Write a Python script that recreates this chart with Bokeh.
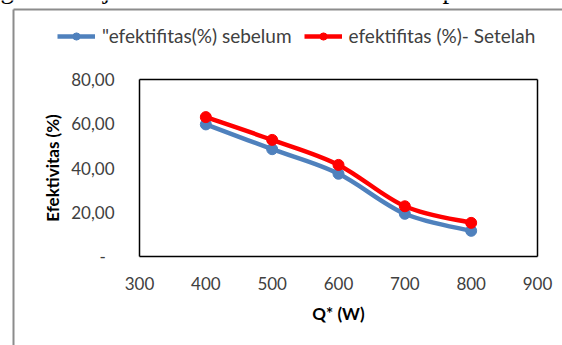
from bokeh.plotting import figure
from bokeh.models import (Range1d, FixedTicker, Legend, LegendItem, Label,
                          LinearAxis)
from bokeh.embed import file_html
from bokeh.resources import INLINE

# ---- data ----
q_w = [400, 500, 600, 700, 800]
sebelum = [59.7, 48.5, 37.4, 19.3, 11.6]
setelah = [63.0, 52.7, 41.4, 22.7, 15.2]
y_ticks = [0, 20, 40, 60, 80]
y_tick_labels = ["-\u00a0\u00a0", "20,00", "40,00", "60,00", "80,00"]
x_ticks = [300, 400, 500, 600, 700, 800, 900]
series_names = ['"efektifitas(%) sebelum', "efektifitas (%)- Setelah"]
top_words = ["g", "ditunjukkan", "dalam", "ilustrasi", "pada", "Gambar"]

X_MIN, X_MAX = 300, 900
Y_MIN, Y_MAX = 0, 80

BLUE = "#4F81BD"
RED = "#FF0000"
FONT = "Lato"

W, H = 562, 345
# plot-area box in canvas pixels
PX_L, PX_R, PX_T, PX_B = 139, 537, 79, 256
sx = (X_MAX - X_MIN) / (PX_R - PX_L)   # data units per px
sy = (Y_MAX - Y_MIN) / (PX_B - PX_T)


def cx(px):  # canvas x pixel -> data x
    return X_MIN + (px - PX_L) * sx


def cy(py):  # canvas y pixel (from top) -> data y
    return Y_MIN + (PX_B - py) * sy


p = figure(width=W, height=H, output_backend="svg", toolbar_location=None,
           x_range=Range1d(cx(0), cx(W)), y_range=Range1d(cy(H), cy(0)),
           x_axis_type=None, y_axis_type=None,
           min_border=0, min_border_left=0, min_border_right=0,
           min_border_top=0, min_border_bottom=0)
p.background_fill_color = "white"
p.border_fill_color = "white"
p.outline_line_color = None
p.xgrid.visible = False
p.ygrid.visible = False

xaxis = LinearAxis(fixed_location=Y_MIN, bounds=(X_MIN, X_MAX),
                   ticker=FixedTicker(ticks=x_ticks))
yaxis = LinearAxis(fixed_location=X_MIN, bounds=(Y_MIN, Y_MAX),
                   ticker=FixedTicker(ticks=y_ticks))
for ax in (xaxis, yaxis):
    ax.axis_line_color = None
    ax.major_tick_line_color = None
    ax.minor_tick_line_color = None
    ax.major_label_text_font = FONT
    ax.major_label_text_font_size = "17px"
    ax.major_label_text_color = "#404040"
    ax.axis_label_text_font = FONT
    ax.axis_label_text_font_style = "bold"
    ax.axis_label_text_color = "#000000"

yaxis.major_label_overrides = {t: l for t, l in zip(y_ticks, y_tick_labels)}
yaxis.major_label_standoff = 19
yaxis.axis_label = "Efektivitas (%)"
yaxis.axis_label_text_font_size = "17px"
yaxis.axis_label_standoff = 5

xaxis.major_label_standoff = 14
xaxis.axis_label = "Q* (W)"
xaxis.axis_label_text_font_size = "17px"
xaxis.axis_label_standoff = 10

p.add_layout(xaxis, "below")
p.add_layout(yaxis, "left")


def smooth_segments(xs, ys):
    n = len(xs)
    out = dict(x0=[], y0=[], x1=[], y1=[], cx0=[], cy0=[], cx1=[], cy1=[])
    for i in range(n - 1):
        xm = xs[i - 1] if i > 0 else xs[i]
        ym = ys[i - 1] if i > 0 else ys[i]
        xp = xs[i + 2] if i + 2 < n else xs[i + 1]
        yp = ys[i + 2] if i + 2 < n else ys[i + 1]
        out["x0"].append(xs[i]); out["y0"].append(ys[i])
        out["x1"].append(xs[i + 1]); out["y1"].append(ys[i + 1])
        out["cx0"].append(xs[i] + (xs[i + 1] - xm) / 6)
        out["cy0"].append(ys[i] + (ys[i + 1] - ym) / 6)
        out["cx1"].append(xs[i + 1] - (xp - xs[i]) / 6)
        out["cy1"].append(ys[i + 1] - (yp - ys[i]) / 6)
    return out


items = []
for ys, color, name in ((sebelum, BLUE, series_names[0]), (setelah, RED, series_names[1])):
    seg = smooth_segments(q_w, ys)
    b = p.bezier(x0=seg["x0"], y0=seg["y0"], x1=seg["x1"], y1=seg["y1"],
                 cx0=seg["cx0"], cy0=seg["cy0"], cx1=seg["cx1"], cy1=seg["cy1"],
                 line_color=color, line_width=4.5)
    s = p.scatter(q_w, ys, marker="circle", size=11, fill_color=color, line_color=color)
    items.append(LegendItem(label=name, renderers=[b, s]))

# plot-area box (four edges)
p.segment(x0=[X_MIN, X_MIN, X_MIN, X_MAX], y0=[Y_MIN, Y_MAX, Y_MIN, Y_MIN],
          x1=[X_MAX, X_MAX, X_MIN, X_MAX], y1=[Y_MIN, Y_MAX, Y_MAX, Y_MAX],
          line_color="black", line_width=1.5)
# gray border of the embedded chart object (left and top edges)
p.segment(x0=[cx(13), cx(13)], y0=[cy(H + 10), cy(9)],
          x1=[cx(13), cx(W + 10)], y1=[cy(9), cy(9)],
          line_color="#8C8C8C", line_width=2)

legend = Legend(items=items, orientation="horizontal", location=(57, H - 47),
                label_text_font=FONT, label_text_font_size="19px",
                label_text_color="#404040",
                glyph_width=38, glyph_height=18, label_standoff=7, spacing=12,
                padding=0, margin=0, border_line_color=None,
                background_fill_alpha=0)
p.add_layout(legend, "center")

# clipped line of surrounding document text (only its lower edge is visible)
word_x = [0, 47, 201, 309, 442, 536]
for w, x in zip(top_words, word_x):
    p.add_layout(Label(x=cx(x), y=cy(-12), text=w,
                       text_font="Liberation Serif", text_font_size="27px",
                       text_baseline="alphabetic", text_color="black"))

open("out.html", "w").write(file_html(p, INLINE))
